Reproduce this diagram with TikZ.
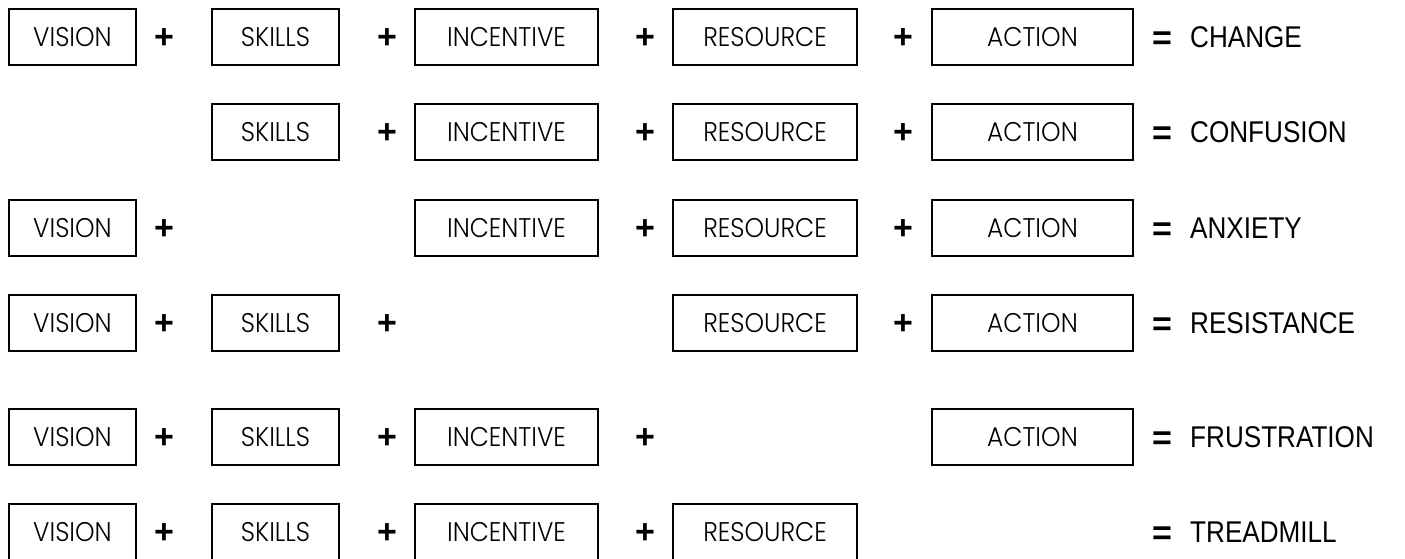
\documentclass[tikz,border=0pt]{standalone}
\usepackage{fontspec}
\newfontfamily\bxfont{Poppins Light}
\newfontfamily\rsfont{Liberation Sans}
\newcommand{\bt}[1]{\scalebox{0.92}[1]{#1}}
\newcommand{\rt}[1]{\scalebox{0.87}[1]{#1}}
\begin{document}
\begin{tikzpicture}[x=1pt,y=-1pt,
  bx/.style={draw=black, line width=2pt, minimum height=56pt, inner sep=0pt, font=\bxfont\fontsize{27}{30}\selectfont},
  cv/.style={bx, minimum width=127pt},
  cs/.style={bx, minimum width=127pt},
  ci/.style={bx, minimum width=183pt},
  cr/.style={bx, minimum width=184pt},
  ca/.style={bx, minimum width=201pt},
  pl/.style={inner sep=0pt, font=\rsfont\bfseries\fontsize{34}{34}\selectfont},
  eq/.style={inner sep=0pt, font=\rsfont\bfseries\fontsize{34}{34}\selectfont},
  rs/.style={inner sep=0pt, anchor=base west, font=\rsfont\fontsize{30}{32}\selectfont}]
\useasboundingbox (0,0) rectangle (1405,559);
% Row 1
\node[cv] (v1) at (72.5,37) {\bt{VISION}};
\node[pl] (p11) at (164,39) {+};
\node[cs] (s1) at (275.5,37) {\bt{SKILLS}};
\node[pl] (p12) at (387,39) {+};
\node[ci] (i1) at (506.5,37) {\bt{INCENTIVE}};
\node[pl] (p13) at (645,39) {+};
\node[cr] (r1) at (765,37) {\bt{RESOURCE}};
\node[pl] (p14) at (903,39) {+};
\node[ca] (a1) at (1032.5,37) {\bt{ACTION}};
\node[eq] (e1) at (1162,41) {=};
\node[rs] (t1) at (1190,47.5) {\rt{CHANGE}};
% Row 2
\node[cs] (s2) at (275.5,132) {\bt{SKILLS}};
\node[pl] (p22) at (387,134) {+};
\node[ci] (i2) at (506.5,132) {\bt{INCENTIVE}};
\node[pl] (p23) at (645,134) {+};
\node[cr] (r2) at (765,132) {\bt{RESOURCE}};
\node[pl] (p24) at (903,134) {+};
\node[ca] (a2) at (1032.5,132) {\bt{ACTION}};
\node[eq] (e2) at (1162,136) {=};
\node[rs] (t2) at (1190,142.5) {\rt{CONFUSION}};
% Row 3
\node[cv] (v3) at (72.5,228) {\bt{VISION}};
\node[pl] (p31) at (164,230) {+};
\node[ci] (i3) at (506.5,228) {\bt{INCENTIVE}};
\node[pl] (p33) at (645,230) {+};
\node[cr] (r3) at (765,228) {\bt{RESOURCE}};
\node[pl] (p34) at (903,230) {+};
\node[ca] (a3) at (1032.5,228) {\bt{ACTION}};
\node[eq] (e3) at (1162,232) {=};
\node[rs] (t3) at (1190,238.5) {\rt{ANXIETY}};
% Row 4
\node[cv] (v4) at (72.5,323) {\bt{VISION}};
\node[pl] (p41) at (164,325) {+};
\node[cs] (s4) at (275.5,323) {\bt{SKILLS}};
\node[pl] (p42) at (387,325) {+};
\node[cr] (r4) at (765,323) {\bt{RESOURCE}};
\node[pl] (p44) at (903,325) {+};
\node[ca] (a4) at (1032.5,323) {\bt{ACTION}};
\node[eq] (e4) at (1162,327) {=};
\node[rs] (t4) at (1190,333.5) {\rt{RESISTANCE}};
% Row 5
\node[cv] (v5) at (72.5,437) {\bt{VISION}};
\node[pl] (p51) at (164,439) {+};
\node[cs] (s5) at (275.5,437) {\bt{SKILLS}};
\node[pl] (p52) at (387,439) {+};
\node[ci] (i5) at (506.5,437) {\bt{INCENTIVE}};
\node[pl] (p53) at (645,439) {+};
\node[ca] (a5) at (1032.5,437) {\bt{ACTION}};
\node[eq] (e5) at (1162,441) {=};
\node[rs] (t5) at (1190,447.5) {\rt{FRUSTRATION}};
% Row 6
\node[cv] (v6) at (72.5,532) {\bt{VISION}};
\node[pl] (p61) at (164,534) {+};
\node[cs] (s6) at (275.5,532) {\bt{SKILLS}};
\node[pl] (p62) at (387,534) {+};
\node[ci] (i6) at (506.5,532) {\bt{INCENTIVE}};
\node[pl] (p63) at (645,534) {+};
\node[cr] (r6) at (765,532) {\bt{RESOURCE}};
\node[eq] (e6) at (1162,536) {=};
\node[rs] (t6) at (1190,542.5) {\rt{TREADMILL}};
\end{tikzpicture}
\end{document}
